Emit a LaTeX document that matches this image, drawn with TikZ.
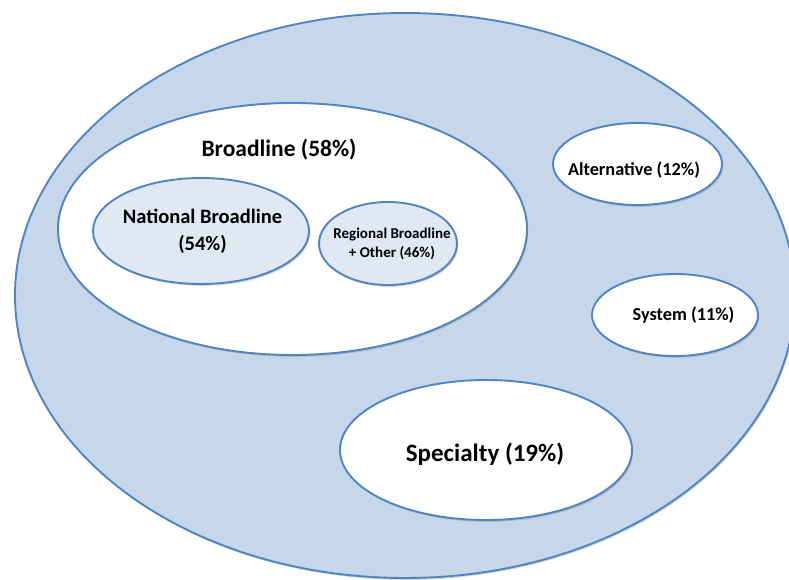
\documentclass[tikz,border=0pt]{standalone}
\usepackage{fontspec}
\setmainfont{Carlito}
\usetikzlibrary{shapes.geometric,shadows}
\definecolor{edgeblue}{HTML}{5185C2}
\definecolor{outerfill}{HTML}{C5D7E8}
\definecolor{innerfill}{HTML}{E0E8F3}
\tikzset{
  oval/.style={ellipse, draw=edgeblue, line width=1.9pt, inner sep=0pt,
    drop shadow={opacity=0.35, shadow xshift=1.2pt, shadow yshift=-1.8pt}},
  lbl/.style={font=\bfseries, align=center, text=black, inner sep=0pt}
}
\begin{document}
\begin{tikzpicture}[x=1pt,y=-1pt]
\useasboundingbox (0,0) rectangle (789,580);
% outer
\node[oval, fill=outerfill, minimum width=780pt, minimum height=565pt] (outer) at (405,295.5) {};
% broadline
\node[oval, fill=white, minimum width=469pt, minimum height=252pt] (broad) at (292.5,229) {};
\node[lbl, font=\bfseries\fontsize{23.5}{27}\selectfont] (broadtxt) at (279,150) {Broadline (58\%)};
\node[oval, fill=innerfill, minimum width=216pt, minimum height=106pt] (national) at (201,231) {};
\node[lbl, font=\bfseries\fontsize{20.5}{27}\selectfont] (nattxt) at (202.5,231) {National Broadline\\(54\%)};
\node[oval, fill=innerfill, minimum width=138pt, minimum height=83pt] (regional) at (388,243.5) {};
\node[lbl, font=\bfseries\fontsize{15}{19}\selectfont] (regtxt) at (392,243.5) {Regional Broadline\\+ Other (46\%)};
% others
\node[oval, fill=white, minimum width=169pt, minimum height=82pt] (alt) at (637.5,164) {};
\node[lbl, font=\bfseries\fontsize{18.3}{21}\selectfont] (alttxt) at (634,170) {Alternative (12\%)};
\node[oval, fill=white, minimum width=166pt, minimum height=82pt] (sys) at (675,315) {};
\node[lbl, font=\bfseries\fontsize{18.3}{21}\selectfont] (systxt) at (683.5,315) {System (11\%)};
\node[oval, fill=white, minimum width=292pt, minimum height=140pt] (spec) at (486,450) {};
\node[lbl, font=\bfseries\fontsize{25}{29}\selectfont] (spectxt) at (485,454) {Specialty (19\%)};
\end{tikzpicture}
\end{document}
